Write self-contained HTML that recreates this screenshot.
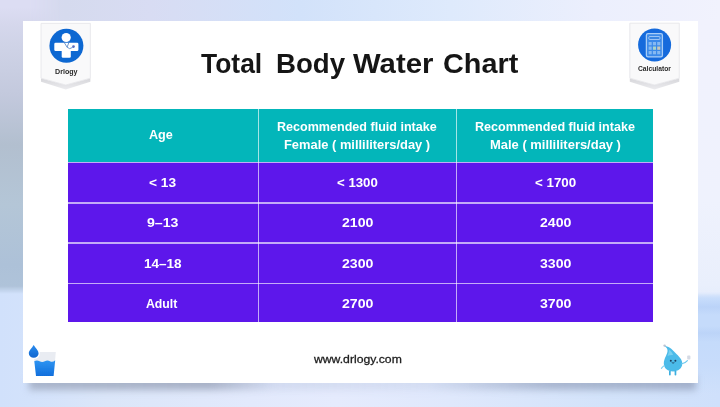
<!DOCTYPE html>
<html>
<head>
<meta charset="utf-8">
<title>Total Body Water Chart</title>
<style>
*{margin:0;padding:0;box-sizing:border-box}
html,body{width:720px;height:407px;overflow:hidden}
body{position:relative;font-family:"Liberation Sans",sans-serif;background:#dfe4f5}
#bg{position:absolute;left:0;top:0;width:720px;height:407px;
 background:linear-gradient(to right,#dcddf3 0px,#d8daf0 30px,#d5daee 66px,#d8dcf3 150px,#d2e2fa 300px,#deeafc 450px,#eceffd 596px,#f1f2fd 720px);}
#bgL{position:absolute;left:0;top:0;width:60px;height:300px;
 background:linear-gradient(to bottom,#dcddf3 7px,#d5d7ec 25px,#cfd3e7 45px,#c3c9dd 95px,#b2bfcf 145px,#b4c6d7 205px,#adc1d8 265px,#b0c4da 300px);
 -webkit-mask-image:linear-gradient(to right,#000 30px,transparent 60px);mask-image:linear-gradient(to right,#000 30px,transparent 60px)}
#bgR{position:absolute;left:697px;top:20px;width:23px;height:280px;
 background:linear-gradient(to bottom,#f1f2fd 0px,#eff2fd 180px,#e9effc 265px,#e4ecfb 280px);
 -webkit-mask-image:linear-gradient(to bottom,#000 271px,transparent 279px);mask-image:linear-gradient(to bottom,#000 271px,transparent 279px)}
#stk{position:absolute;left:697px;top:294px;width:23px;height:113px;
 background:linear-gradient(to bottom,rgba(197,219,251,0) 0px,rgba(197,219,251,1) 6px,rgba(187,211,248,1) 13px,rgba(197,219,251,1) 21px,rgba(197,219,251,1) 32px,rgba(188,212,248,1) 39px,rgba(197,219,251,1) 48px,rgba(199,220,251,1) 70px,rgba(212,228,251,0) 100px)}
#bgB{position:absolute;left:0;top:286px;width:720px;height:121px;
 background:linear-gradient(to right,#d1e1fb 0px,#d3e2fb 30px,#dbe6f9 106px,#e2e9fc 250px,#e5ebfd 336px,#dfe8fc 450px,#d3e3fa 606px,#cfe0fb 720px);
 -webkit-mask-image:linear-gradient(to bottom,transparent 0px,#000 8px);mask-image:linear-gradient(to bottom,transparent 0px,#000 8px)}
#shadow{position:absolute;left:29px;top:376px;width:667px;height:14px;filter:blur(3.6px);
 background:linear-gradient(to right,rgba(152,162,184,.72) 0px,rgba(152,162,184,.78) 180px,rgba(170,183,212,.3) 245px,rgba(170,183,212,.22) 400px,rgba(150,163,190,.7) 520px,rgba(150,163,190,.8) 667px)}
#card{position:absolute;left:22.8px;top:20.6px;width:675.7px;height:362.9px;background:#fff}
h1{font-size:0;font-weight:normal}
.t{position:absolute;display:block;white-space:nowrap;transform-origin:0 0;line-height:1}
.title{font-weight:bold;color:#151515;filter:blur(.3px)}
#table{position:absolute;left:67.5px;top:108.9px;width:585.8px;height:213.5px;background:#5d17eb}
#thead{position:absolute;left:0;top:0;width:100%;height:53.4px;background:#03b6ba}
.vl{position:absolute;top:0;width:1.6px;height:213.5px;background:rgba(255,255,255,.64);filter:blur(.4px);margin-left:.4px}
.hl{position:absolute;left:0;width:100%;height:1.6px;background:rgba(255,255,255,.64);filter:blur(.4px);margin-top:.5px}
.w{color:#fff;font-weight:bold;filter:blur(.35px)}
.foot{color:#1c1c1c;-webkit-text-stroke:.3px #1c1c1c;filter:blur(.3px)}
.lab{color:#2a2a2a;font-weight:bold;filter:blur(.35px)}
</style>
</head>
<body>
<div id="bg"></div>
<div id="bgL"></div>
<div id="bgB"></div>
<div id="bgR"></div>
<div id="stk"></div>
<div id="shadow"></div>
<div id="card"></div>

<div id="table">
  <div id="thead"></div>
  <div class="vl" style="left:189.7px"></div>
  <div class="vl" style="left:387.8px"></div>
  <div class="hl" style="top:52.4px"></div>
  <div class="hl" style="top:92.8px"></div>
  <div class="hl" style="top:133px"></div>
  <div class="hl" style="top:173.2px"></div>
</div>


<svg id="ov" width="720" height="407" viewBox="0 0 720 407" style="position:absolute;left:0;top:0">
  <defs>
    <linearGradient id="gw" x1="0" y1="0" x2="0" y2="1"><stop offset="0" stop-color="#2f95f2"/><stop offset="1" stop-color="#116fdc"/></linearGradient>
    <linearGradient id="gd" x1="0" y1="0" x2="0" y2="1"><stop offset="0" stop-color="#2a8bee"/><stop offset="1" stop-color="#0f66cf"/></linearGradient>
    <linearGradient id="gs" x1="0" y1="0" x2="0" y2="1"><stop offset="0" stop-color="#d6d6da"/><stop offset="1" stop-color="#ececef"/></linearGradient>
    <filter id="b3" x="-20%" y="-20%" width="140%" height="140%"><feGaussianBlur stdDeviation="0.45"/></filter>
  </defs>

  <!-- left badge -->
  <g filter="url(#b3)">
    <polygon points="41,78.2 65.7,85 90.4,78.2 90.4,81.8 65.7,89.6 41,81.8" fill="url(#gs)"/>
    <polygon points="41,23.4 90.4,23.4 90.4,78.2 65.7,85 41,78.2" fill="#f9f9fa" stroke="#e4e4e8" stroke-width="0.8"/>
    <circle cx="66.4" cy="45.8" r="17" fill="#1068d2"/>
    <circle cx="66.2" cy="37.5" r="4.6" fill="#fff"/>
    <rect x="54.3" y="42.7" width="24.1" height="8.4" rx="1.3" fill="#fff"/>
    <rect x="61.7" y="49" width="9.1" height="8.7" rx="1.3" fill="#fff"/>
    <path d="M63.4 41.2 L67.1 47.2 L69.4 41.2" fill="none" stroke="#4d7fc4" stroke-width="0.8"/>
    <path d="M67.1 47.2 Q69.5 50 72.6 47.4" fill="none" stroke="#4d7fc4" stroke-width="0.8"/>
    <circle cx="73.5" cy="46.6" r="1.3" fill="#3a6fd0"/>
    <circle cx="73.5" cy="46.6" r="0.5" fill="#c04a6a"/>
  </g>

  <!-- right badge -->
  <g filter="url(#b3)">
    <polygon points="629.8,78.2 654.5,85 679.3,78.2 679.3,81.8 654.5,89.6 629.8,81.8" fill="url(#gs)"/>
    <polygon points="629.8,23.2 679.3,23.2 679.3,78.2 654.5,85 629.8,78.2" fill="#f9f9fa" stroke="#e4e4e8" stroke-width="0.8"/>
    <circle cx="654.6" cy="44.9" r="16.5" fill="#136bdc"/>
    <rect x="646.4" y="33.7" width="16" height="23.2" rx="1.6" fill="#3a89e9" stroke="#a9cdf7" stroke-width="1.3"/>
    <rect x="648.9" y="36.6" width="11" height="2.8" rx="0.6" fill="#2f7fe0" stroke="#b5d4f8" stroke-width="0.9"/>
    <g fill="#85b8f2">
      <rect x="648.6" y="42" width="3.1" height="3.3"/><rect x="652.9" y="42" width="3.1" height="3.3"/><rect x="657.2" y="42" width="3.1" height="3.3"/>
      <rect x="648.6" y="46.5" width="3.1" height="3.3"/><rect x="652.9" y="46.5" width="3.1" height="3.3" fill="#a9d3c9"/><rect x="657.2" y="46.5" width="3.1" height="3.3" fill="#c9c7b8"/>
      <rect x="648.6" y="51" width="3.1" height="3.3"/><rect x="652.9" y="51" width="3.1" height="3.3"/><rect x="657.2" y="51" width="3.1" height="3.3"/>
    </g>
  </g>

  <!-- glass with drop -->
  <g filter="url(#b3)">
    <path d="M33.5 352 L55.8 352 L54.9 362 L34.4 362 Z" fill="#e9ecf2"/>
    <path d="M34.3 361.2 Q37 359.8 39.6 361.2 T44.8 361.2 T50 361.2 T55.2 360.2 L53.6 375.9 L36 375.9 Z" fill="url(#gw)"/>
    <path d="M33.7 345 C35.5 348 38.6 350.6 38.6 353.3 A4.9 4.5 0 0 1 28.8 353.3 C28.8 350.6 32 348 33.7 345 Z" fill="url(#gd)" stroke="#fff" stroke-width="2.6" paint-order="stroke"/>
  </g>

  <!-- droplet mascot -->
  <g filter="url(#b3)">
    <path d="M664 345.8 C668 346 672 349 675 352.5 C679 356.5 682.3 359.5 682.3 363.5 C682.3 368.5 678 371.4 673 371.4 C668 371.4 663.8 368.5 663.8 363.5 C663.8 358 668 354 667.5 350 C667.2 348 665.5 346.6 664 345.8 Z" fill="#4cbbe9"/>
    <path d="M667.6 356 C668.6 353.5 669.2 351.5 668.8 349.6 C671 351 672.5 353 673 355 C671 354.8 669 355.2 667.6 356 Z" fill="#78d0f0"/>
    <rect x="669" y="370.5" width="1.7" height="5" rx="0.8" fill="#3cafe0"/>
    <rect x="674.6" y="370.5" width="1.7" height="5" rx="0.8" fill="#3cafe0"/>
    <path d="M681.2 364 Q685 363.6 687.4 360.6" fill="none" stroke="#6cc8ee" stroke-width="1.1" stroke-linecap="round"/>
    <path d="M664.2 365.6 Q662.6 366.8 661.4 368.4" fill="none" stroke="#7fd0f0" stroke-width="1.1" stroke-linecap="round"/>
    <rect x="687.2" y="355.6" width="3.2" height="4" rx="0.8" fill="#d5dae4"/>
    <circle cx="664.6" cy="345.6" r="1.2" fill="#b9c2d2"/>
    <circle cx="670.8" cy="360.7" r="1" fill="#1d3e5c"/>
    <circle cx="675.4" cy="360.7" r="1" fill="#1d3e5c"/>
    <path d="M671.4 362.4 Q673.1 364.4 674.8 362.4 Z" fill="#1d3e5c"/>
  </g>
</svg>

<h1><span class="t title" style="left:201.30px;top:50.08px;font-size:27.2px;transform:scaleX(0.9728)">Total</span> <span class="t title" style="left:275.68px;top:50.08px;font-size:27.2px;transform:scaleX(1.0172)">Body</span> <span class="t title" style="left:352.80px;top:50.08px;font-size:27.2px;transform:scaleX(1.0781)">Water</span> <span class="t title" style="left:443.14px;top:50.08px;font-size:27.2px;transform:scaleX(1.0609)">Chart</span></h1>
<div class="t w" style="left:149.20px;top:128.10px;font-size:13px;transform:scaleX(0.9700)">Age</div>
<div class="t w" style="left:277.20px;top:119.80px;font-size:13px;transform:scaleX(0.9656)">Recommended fluid intake</div>
<div class="t w" style="left:283.60px;top:137.80px;font-size:13px;transform:scaleX(0.9915)">Female ( milliliters/day )</div>
<div class="t w" style="left:475.30px;top:119.80px;font-size:13px;transform:scaleX(0.9668)">Recommended fluid intake</div>
<div class="t w" style="left:490.00px;top:137.80px;font-size:13px;transform:scaleX(0.9958)">Male ( milliliters/day )</div>
<div class="t w" style="left:148.70px;top:175.80px;font-size:13px;transform:scaleX(1.0537)">&lt; 13</div>
<div class="t w" style="left:146.70px;top:216.30px;font-size:13px;transform:scaleX(1.0875)">9–13</div>
<div class="t w" style="left:143.80px;top:256.80px;font-size:13px;transform:scaleX(1.0412)">14–18</div>
<div class="t w" style="left:145.90px;top:297.00px;font-size:13px;transform:scaleX(0.9445)">Adult</div>
<div class="t w" style="left:336.50px;top:175.80px;font-size:13px;transform:scaleX(1.0177)">&lt; 1300</div>
<div class="t w" style="left:341.80px;top:216.30px;font-size:13px;transform:scaleX(1.0875)">2100</div>
<div class="t w" style="left:341.80px;top:256.80px;font-size:13px;transform:scaleX(1.0875)">2300</div>
<div class="t w" style="left:341.80px;top:297.00px;font-size:13px;transform:scaleX(1.0875)">2700</div>
<div class="t w" style="left:534.50px;top:175.80px;font-size:13px;transform:scaleX(1.0277)">&lt; 1700</div>
<div class="t w" style="left:539.80px;top:216.30px;font-size:13px;transform:scaleX(1.0875)">2400</div>
<div class="t w" style="left:539.80px;top:256.80px;font-size:13px;transform:scaleX(1.0875)">3300</div>
<div class="t w" style="left:539.80px;top:297.00px;font-size:13px;transform:scaleX(1.0875)">3700</div>
<div class="t lab" style="left:54.90px;top:67.97px;font-size:7px;transform:scaleX(1.0190)">Drlogy</div>
<div class="t lab" style="left:638.20px;top:66.23px;font-size:6.7px;transform:scaleX(1.0060)">Calculator</div>
<div class="t foot" style="left:314.23px;top:354.21px;font-size:11.8px;transform:scaleX(1.0328)">www.drlogy.com</div>
</body>
</html>
